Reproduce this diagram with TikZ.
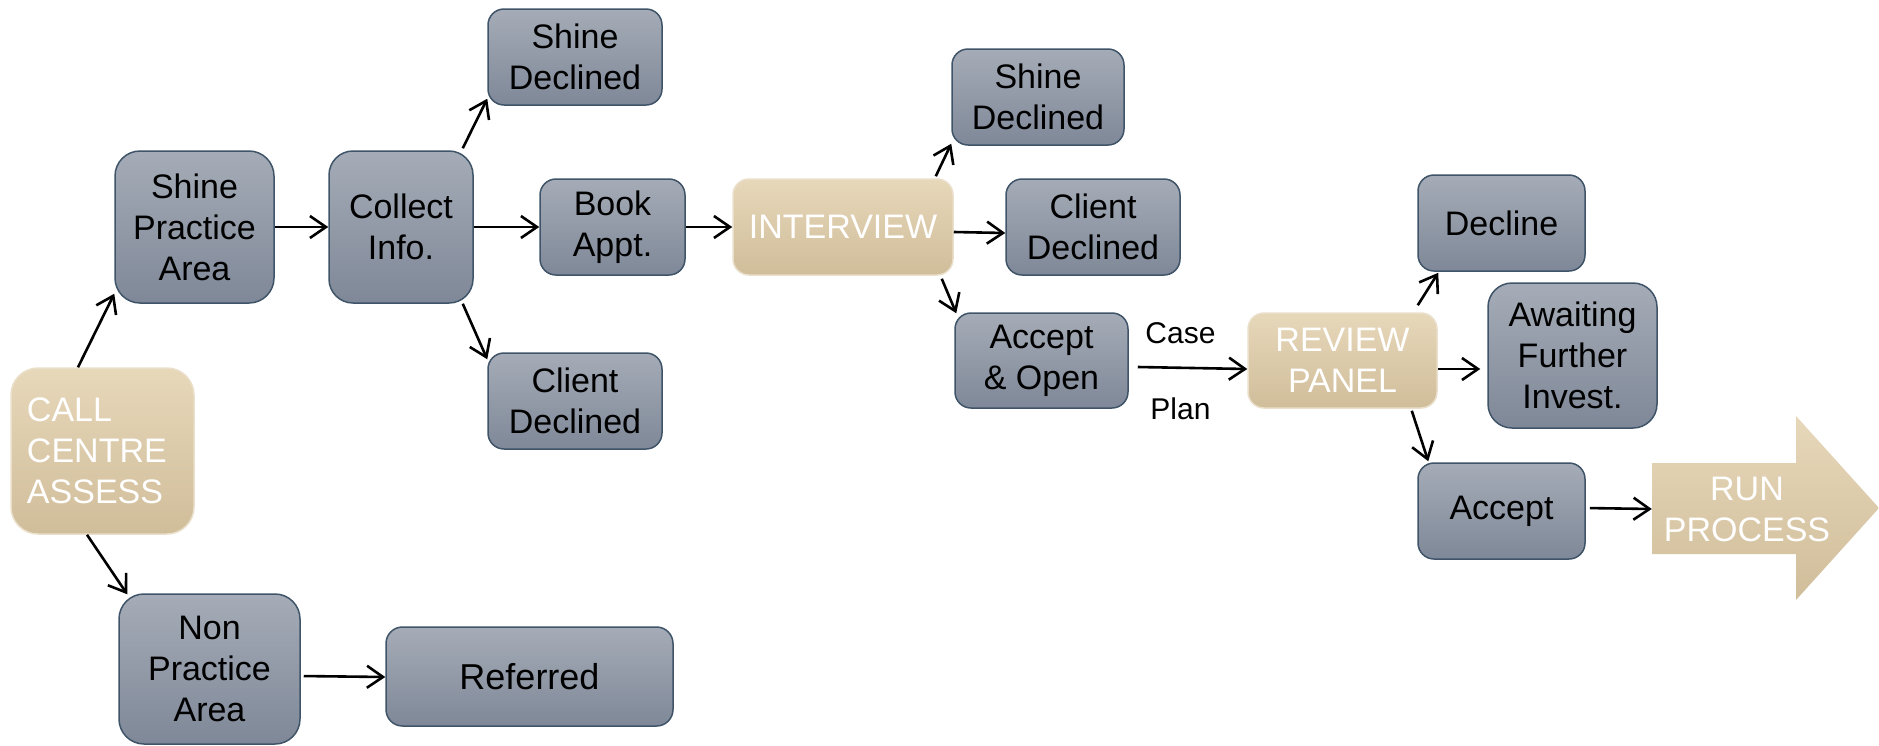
\documentclass[tikz,border=0pt]{standalone}
\usepackage{fontspec}
\setmainfont{Liberation Sans}
\usetikzlibrary{arrows.meta,calc}
\definecolor{gtop}{HTML}{A5ACB7}
\definecolor{gbot}{HTML}{7F8898}
\definecolor{gline}{HTML}{3F5468}
\definecolor{ttop}{HTML}{E7D8BA}
\definecolor{tbot}{HTML}{D0BD9A}
\definecolor{tline}{HTML}{EADFCB}
\tikzset{
  box/.style={shape=rectangle, top color=gtop, bottom color=gbot, draw=gline, line width=1.5pt,
    inner sep=0pt, align=center, text=black, font=\fontsize{34}{41}\selectfont},
  tanbox/.style={shape=rectangle, top color=ttop, bottom color=tbot, draw=tline, line width=1.5pt,
    inner sep=0pt, align=center, text=white, font=\fontsize{34}{41}\selectfont},
  sz/.style n args={3}{minimum width=#1pt, minimum height=#2pt, rounded corners=#3pt},
  conn/.style={line width=2.6pt, -{Straight Barb[length=16pt,width=22pt]}},
  lbl/.style={font=\fontsize{30}{36}\selectfont, text=black, inner sep=0pt}
}
\begin{document}
\begin{tikzpicture}[x=1pt,y=-1pt]
\useasboundingbox (0,0) rectangle (1879,745);
% nodes
\node[tanbox, sz={183}{166}{27}, align=left, text width=151pt, inner xsep=16pt] (call) at (102.5,451) {CALL\\CENTRE\\ASSESS};
\node[box, sz={159}{152}{25}] (sp) at (194.5,227) {Shine\\Practice\\Area};
\node[box, sz={144}{152}{24}] (ci) at (401,227) {Collect\\Info.};
\node[box, sz={174}{96}{16}] (sd1) at (575,57) {Shine\\Declined};
\node[box, sz={145}{96}{16}] (ba) at (612.5,227) {Book\\Appt.};
\node[box, sz={174}{96}{16}] (cd1) at (575,401) {Client\\Declined};
\node[tanbox, sz={220}{96}{16}] (iv) at (843,227) {INTERVIEW};
\node[box, sz={172}{96}{16}] (sd2) at (1038,97) {Shine\\Declined};
\node[box, sz={174}{96}{16}] (cd2) at (1093,227) {Client\\Declined};
\node[box, sz={173}{95}{16}] (ao) at (1041.5,360.5) {Accept\\\& Open};
\node[tanbox, sz={189}{95}{16}] (rp) at (1342.5,360.5) {REVIEW\\PANEL};
\node[box, sz={167}{96}{16}] (dec) at (1501.5,223) {Decline};
\node[box, sz={169}{145}{24}] (aw) at (1572.5,355.5) {Awaiting\\Further\\Invest.};
\node[box, sz={167}{96}{16}] (acc) at (1501.5,511) {Accept};
\node[box, sz={181}{150}{25}] (np) at (209.5,669) {Non\\Practice\\Area};
\node[box, sz={287}{99}{16.5}, font=\fontsize{36}{43}\selectfont] (ref) at (529.5,676.5) {Referred};
% run process arrow
\shade[top color=ttop, bottom color=tbot] (1652,463) -- (1796,463) -- (1796,416) -- (1879,508)
  -- (1796,600) -- (1796,554) -- (1652,554) -- cycle;
\node[shape=rectangle, minimum width=190pt, minimum height=91pt, inner sep=0pt, align=center,
  text=white, font=\fontsize{34}{41}\selectfont] (run) at (1747,509) {RUN\\PROCESS};
% connectors
\draw[conn] ([xshift=-24.5pt]call.north) -- ([yshift=10pt]sp.south west);
\draw[conn] (sp.east) -- (ci.west);
\draw[conn] ([xshift=-11pt,yshift=2pt]ci.north east) -- ([yshift=7pt]sd1.south west);
\draw[conn] (ci.east) -- (ba.west);
\draw[conn] ([xshift=-11pt]ci.south east) -- ([yshift=-7pt]cd1.north west);
\draw[conn] (ba.east) -- (iv.west);
\draw[conn] ([xshift=-18pt,yshift=2pt]iv.north east) -- ([yshift=2pt]sd2.south west);
\draw[conn] ([yshift=-5pt]iv.east) -- ([yshift=-6pt]cd2.west);
\draw[conn] ([xshift=-12pt,yshift=-3pt]iv.south east) -- ([xshift=2pt,yshift=-1pt]ao.north west);
\draw[conn] ([xshift=9pt,yshift=-6.5pt]ao.east) -- ([yshift=-8.5pt]rp.west)
  node[lbl, pos=0.39, yshift=35pt] (case) {Case}
  node[lbl, pos=0.39, yshift=-41pt] (plan) {Plan};
\draw[conn] ([xshift=-20pt,yshift=7pt]rp.north east) -- ([xshift=21pt,yshift=-1pt]dec.south west);
\draw[conn, shorten >=7pt] ([yshift=-8.5pt]rp.east) -- ([yshift=-13.5pt]aw.west);
\draw[conn] ([xshift=-26pt,yshift=-2pt]rp.south east) -- ([xshift=11pt,yshift=1pt]acc.north west);
\draw[conn, shorten <=4pt] ([yshift=3pt]acc.east) -- (run.west);
\draw[conn] ([xshift=-15.5pt]call.south) -- ([xshift=9pt,yshift=-1pt]np.north west);
\draw[conn, shorten <=3pt] ([yshift=-7pt]np.east) -- ([yshift=-0.5pt]ref.west);
\end{tikzpicture}
\end{document}
